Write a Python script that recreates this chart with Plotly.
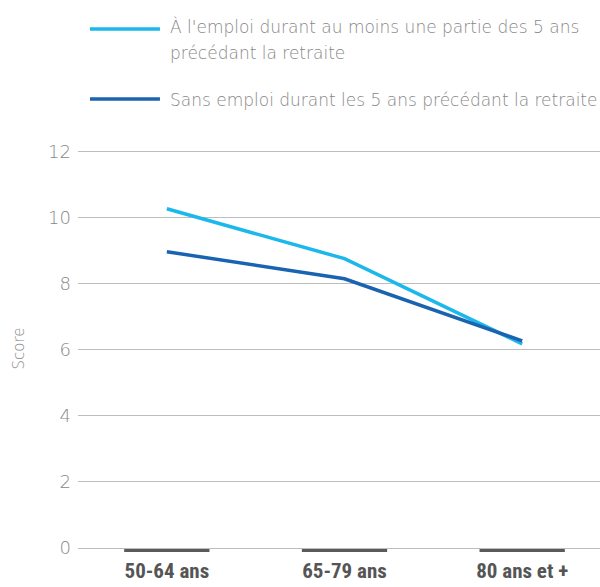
import plotly.graph_objects as go

categories = ["50-64 ans", "65-79 ans", "80 ans et +"]
legend_lines = [
    ["À l'emploi durant au moins une partie des 5 ans", "précédant la retraite"],
    ["Sans emploi durant les 5 ans précédant la retraite"],
]
emploi = [10.27, 8.76, 6.18]
sans_emploi = [8.97, 8.15, 6.27]
y_ticks = [0, 2, 4, 6, 8, 10, 12]

colors = ["#1CB8EC", "#1A63B1"]
LIGHT = "'DejaVu Sans', sans-serif"
light_font = dict(family=LIGHT, size=17, color="#878787", weight=200)

x_idx = list(range(len(categories)))
fig = go.Figure()
for vals, lines, col in zip([emploi, sans_emploi], legend_lines, colors):
    fig.add_trace(go.Scatter(x=x_idx, y=vals, mode="lines", name=" ".join(lines),
                             line=dict(color=col, width=3.5), showlegend=False))

shapes = []
# dark segments under each category on the base line
for i in x_idx:
    shapes.append(dict(type="rect", xref="x", yref="paper", x0=i - 0.24, x1=i + 0.24,
                       ysizemode="pixel", yanchor=0, y0=-1, y1=-4,
                       fillcolor="#5a5a5a", line=dict(width=0)))

# custom legend (paper coords relative to plot area)
legend_symbol_y = [1.3008, 1.1253]
legend_text_y = [[1.3058, 1.2406], [1.1228]]
annotations = []
for lines, col, sy, tys in zip(legend_lines, colors, legend_symbol_y, legend_text_y):
    shapes.append(dict(type="line", xref="paper", yref="paper", x0=0.023, x1=0.157,
                       y0=sy, y1=sy, line=dict(color=col, width=3.5)))
    for txt, ty in zip(lines, tys):
        annotations.append(dict(xref="paper", yref="paper", x=0.172, y=ty,
                                xanchor="left", yanchor="middle", text=txt,
                                showarrow=False, align="left", font=light_font))

fig.update_layout(
    width=600, height=587,
    margin=dict(l=78, r=0, t=149, b=39),
    paper_bgcolor="white", plot_bgcolor="white",
    shapes=shapes, annotations=annotations,
    xaxis=dict(range=[-0.5, 2.438], tickvals=x_idx, ticktext=categories,
               showgrid=False, zeroline=False, showline=False, ticks="",
               tickfont=dict(family="'Roboto Condensed', 'Liberation Sans Narrow', sans-serif",
                             size=21, color="#555555", weight="bold"),
               ticklabelstandoff=8),
    yaxis=dict(range=[0, 12.08], tickvals=y_ticks, showgrid=True, gridcolor="#BDBDBD",
               gridwidth=1, zeroline=True, zerolinecolor="#BDBDBD", zerolinewidth=1,
               showline=False, ticks="", ticklabelstandoff=6,
               tickfont=dict(family=LIGHT, size=18, color="#878787", weight=200),
               title=dict(text="Score", font=dict(family=LIGHT, size=15, color="#878787", weight=200),
                          standoff=19)),
)

fig.write_html("out.html", config={"displayModeBar": False},
               post_script="document.body.style.margin='0';document.body.style.overflow='hidden';")
